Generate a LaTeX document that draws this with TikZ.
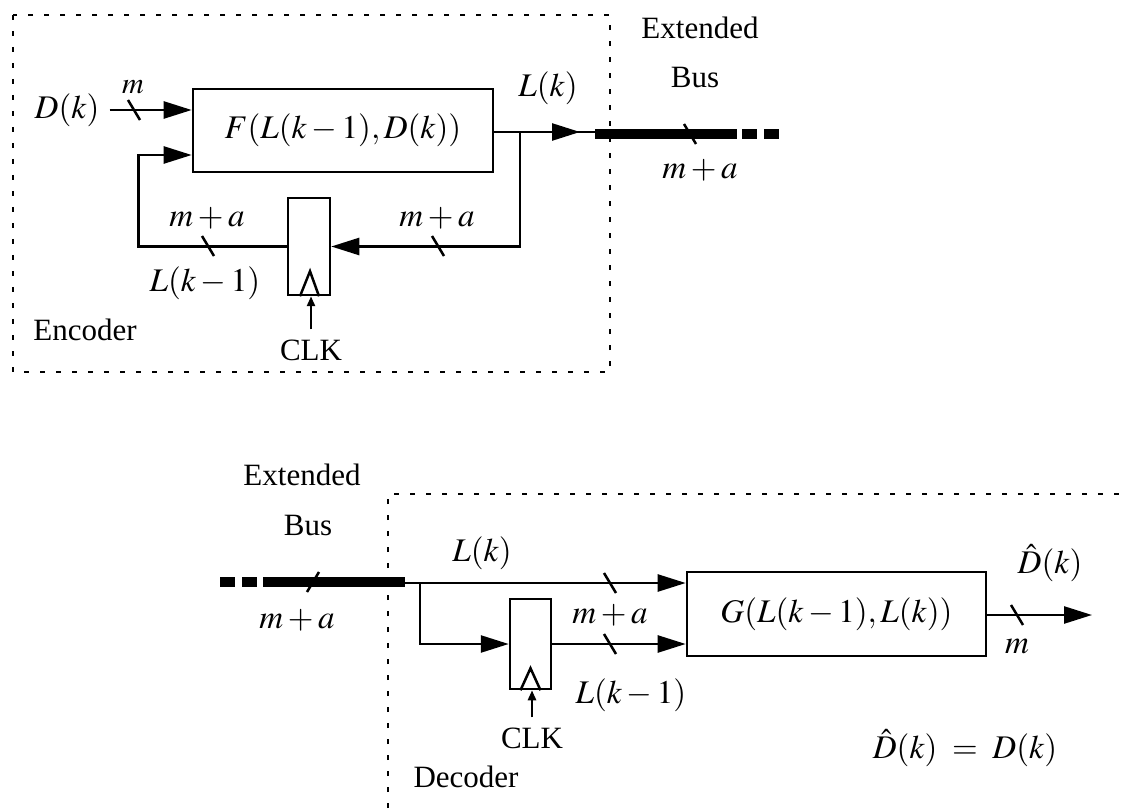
\documentclass[tikz,border=0pt]{standalone}
\usepackage{mathptmx}
\usepackage{fontspec}
\setmainfont{Liberation Serif}
\usetikzlibrary{arrows.meta,calc}
\tikzset{
  wire/.style={line width=2.5pt},
  arr/.style={wire,-{Triangle[length=28pt,width=17pt]}},
  clkarr/.style={wire,-{Triangle[length=10pt,width=8pt]}},
  lbl/.style={inner sep=0pt,font=\fontsize{31}{37}\selectfont},
  mlbl/.style={inner sep=0pt,font=\fontsize{33}{40}\selectfont},
  slbl/.style={inner sep=0pt,font=\fontsize{30}{36}\selectfont},
  blk/.style={draw,line width=2.6pt,inner sep=0pt,font=\fontsize{33}{40}\selectfont},
  reg/.style={draw,line width=2.5pt,inner sep=0pt},
  bus/.style={line width=10pt},
  busdash/.style={line width=10pt,dash pattern=on 15pt off 7pt},
  frame/.style={line width=2.5pt,dash pattern=on 5pt off 11pt},
  sl/.pic={\draw[line width=2.5pt] (-6,-10) -- (6,10);},
  slr/.pic={\draw[line width=2.5pt] (-6,10) -- (6,-10);}
}
\begin{document}
\begin{tikzpicture}[x=1pt,y=-1pt]
\useasboundingbox (0,0) rectangle (1127,810);
% ---------------- Encoder ----------------
\draw[frame] (13,15) rectangle (610,372);
\node[blk,minimum width=300pt,minimum height=83pt] (F) at (343,130.5) {$F(L(k-1),D(k))$};
\node[reg,minimum width=42pt,minimum height=97pt] (R1) at (309,246.5) {};
\node[mlbl] (Dk) at (67,110) {$D(k)$};
\node[slbl] (mD) at (133,87) {$m$};
\node[mlbl] (Lk1) at (548,88) {$L(k)$};
\node[mlbl] (ma1) at (207,218) {$m+a$};
\node[mlbl] (ma2) at (437,218) {$m+a$};
\node[mlbl] (Lkm1) at (205,283) {$L(k-1)$};
\node[lbl] (CLK1) at (311,350) {CLK};
\node[lbl] (Enc) at (85,330) {Encoder};
\node[lbl] (Ext1) at (700,28) {Extended};
\node[lbl] (Bus1) at (695,78) {Bus};
\node[mlbl] (ma3) at (700,170) {$m+a$};
\coordinate (Fin1) at (F.west |- Dk.east);
\coordinate (Fin2) at ($(F.west)+(0,24.5)$);
\coordinate (J1) at (520,132);
\coordinate (B1s) at (595,132);
\coordinate (B1e) at (737,134);
\coordinate (B1d) at (742,134);
\coordinate (B1f) at (780,134);
\draw[arr] ($(Dk.east)+(10,0)$) -- (Fin1);
\draw[wire] (F.east |- J1) -- (B1s);
\draw[arr,shorten >=15pt] (J1) -- (B1s);
\draw[bus] (B1s |- B1e) -- (B1e);
\draw[busdash] (B1d) -- (B1f);
\draw[arr] (J1) -- (J1 |- R1.east) -- (R1.east);
\draw[arr] (R1.west) -| ($(Fin2)+(-53,0)$) -- (Fin2);
\draw[wire] ($(R1.south)+(-9,0)$) -- ($(R1.south)+(1,-25)$) -- ($(R1.south)+(10,0)$);
\draw[clkarr] ($(CLK1.north)+(0,-10)$) -- (CLK1.north |- R1.south);
\pic at (134,110) {sl};
\pic at (208,246) {sl};
\pic at (438,246) {sl};
\pic at (690,134) {sl};
% ---------------- Decoder ----------------
\draw[frame] (388,808) -- (388,494) -- (1124,494);
\node[blk,minimum width=299pt,minimum height=84pt] (G) at (836.5,614) {$G(L(k-1),L(k))$};
\node[reg,minimum width=41pt,minimum height=90pt] (R2) at (530.5,644) {};
\node[lbl] (Ext2) at (302,475) {Extended};
\node[lbl] (Bus2) at (308,525) {Bus};
\node[mlbl] (ma4) at (297,620) {$m+a$};
\node[mlbl] (Lk2) at (482,553) {$L(k)$};
\node[mlbl] (ma5) at (610,615) {$m+a$};
\node[mlbl] (Lkm2) at (631,695) {$L(k-1)$};
\node[lbl] (CLK2) at (532,738) {CLK};
\node[lbl] (Dec) at (466,777) {Decoder};
\node[mlbl] (Dh) at (1050,563) {$\hat{D}(k)$};
\node[mlbl] (mG) at (1017,647) {$m$};
\node[mlbl] (Eq) at (965,748) {$\hat{D}(k)\;=\;D(k)$};
\coordinate (B2a) at (220,582);
\coordinate (B2b) at (257,582);
\coordinate (B2s) at (263,582);
\coordinate (B2e) at (405,582);
\coordinate (J2) at (420,583);
\coordinate (Gout) at (1092,615);
\draw[busdash] (B2a) -- (B2b);
\draw[bus] (B2s) -- (B2e);
\draw[wire] (B2e |- J2) -- (J2);
\draw[arr] (J2) -- (G.west |- J2);
\draw[arr] (J2) -- (J2 |- R2.west) -- (R2.west);
\draw[arr] (R2.east) -- (G.west |- R2.east);
\draw[arr] (G.east |- Gout) -- (Gout);
\draw[wire] ($(R2.south)+(-10,0)$) -- ($(R2.south)+(0,-22)$) -- ($(R2.south)+(10,0)$);
\draw[clkarr] ($(CLK2.north)+(0,-10)$) -- (CLK2.north |- R2.south);
\pic at (313,582) {slr};
\pic at (610,583) {sl};
\pic at (610,644) {sl};
\pic at (1017,615) {sl};
\end{tikzpicture}
\end{document}
